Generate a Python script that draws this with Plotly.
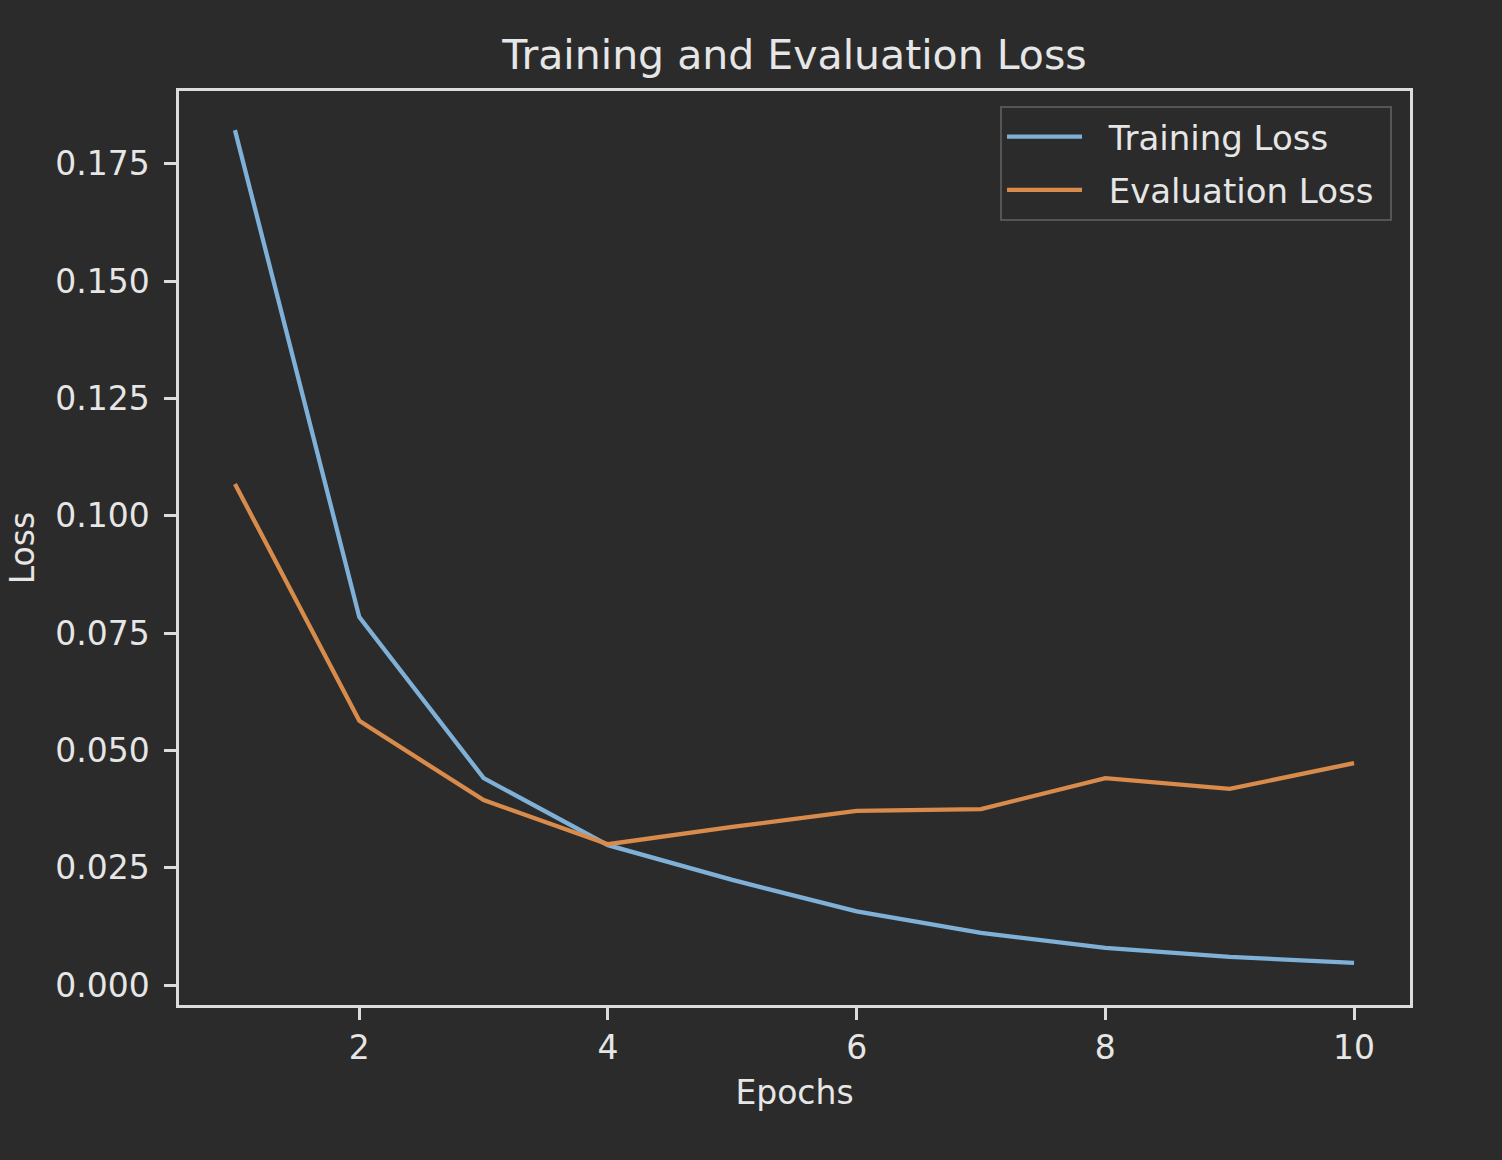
import plotly.graph_objects as go

# epochs and per-epoch losses
epochs = [1, 2, 3, 4, 5, 6, 7, 8, 9, 10]
training_loss = [0.1822, 0.0784, 0.0441, 0.0298, 0.0224, 0.0157, 0.0111, 0.0079, 0.0060, 0.0047]
eval_loss = [0.1068, 0.0563, 0.0394, 0.0300, 0.0337, 0.0371, 0.0375, 0.0441, 0.0418, 0.0473]

bg = '#2b2b2b'
fg = '#e6e6e6'
font_family = 'DejaVu Sans'
pad = '\u00a0\u00a0'  # a bit of room between legend line and label

fig = go.Figure()

fig.add_trace(go.Scatter(
    x=epochs, y=training_loss, mode='lines', name=pad + 'Training Loss',
    legendgroup='train',
    line=dict(color='#7fb1d8', width=4.3)
))
fig.add_trace(go.Scatter(
    x=epochs, y=eval_loss, mode='lines', name=pad + 'Evaluation Loss\u00a0',
    legendgroup='eval',
    line=dict(color='#d98b4b', width=4.3)
))

axis_common = dict(
    showgrid=False, zeroline=False,
    showline=True, linecolor='#dcdcdc', linewidth=2.5, mirror=True,
    ticks='outside', ticklen=12, tickwidth=2.5, tickcolor='#dcdcdc',
    tickfont=dict(size=33, color=fg, family=font_family),
)

fig.update_xaxes(
    range=[0.55, 10.45], tickmode='array', tickvals=[2, 4, 6, 8, 10],
    title=dict(text='Epochs', font=dict(size=33, color=fg, family=font_family), standoff=15),
    **axis_common
)
fig.update_yaxes(
    range=[-0.00426, 0.19054], tickmode='array',
    tickvals=[0, 0.025, 0.05, 0.075, 0.1, 0.125, 0.15, 0.175], tickformat='.3f',
    ticklabelstandoff=8,
    title=dict(text='Loss', font=dict(size=33, color=fg, family=font_family), standoff=11),
    **axis_common
)

fig.update_layout(
    width=1502, height=1160,
    margin=dict(l=179, r=92, t=91, b=155),
    paper_bgcolor=bg, plot_bgcolor=bg,
    font=dict(family=font_family, color=fg),
    title=dict(
        text='Training and Evaluation Loss',
        x=0.5, xanchor='center', y=1 - 55 / 1160, yanchor='middle',
        xref='paper',
        font=dict(size=41, color=fg, family=font_family)
    ),
    legend=dict(
        x=0.9854, y=0.9835, xanchor='right', yanchor='top',
        bgcolor=bg, bordercolor='#555555', borderwidth=2,
        font=dict(size=34, color=fg, family=font_family),
        itemwidth=75, traceorder='grouped', tracegroupgap=6,
    ),
)

fig.write_html("out.html", config={'displayModeBar': False},
               post_script="document.body.style.margin='0';")
